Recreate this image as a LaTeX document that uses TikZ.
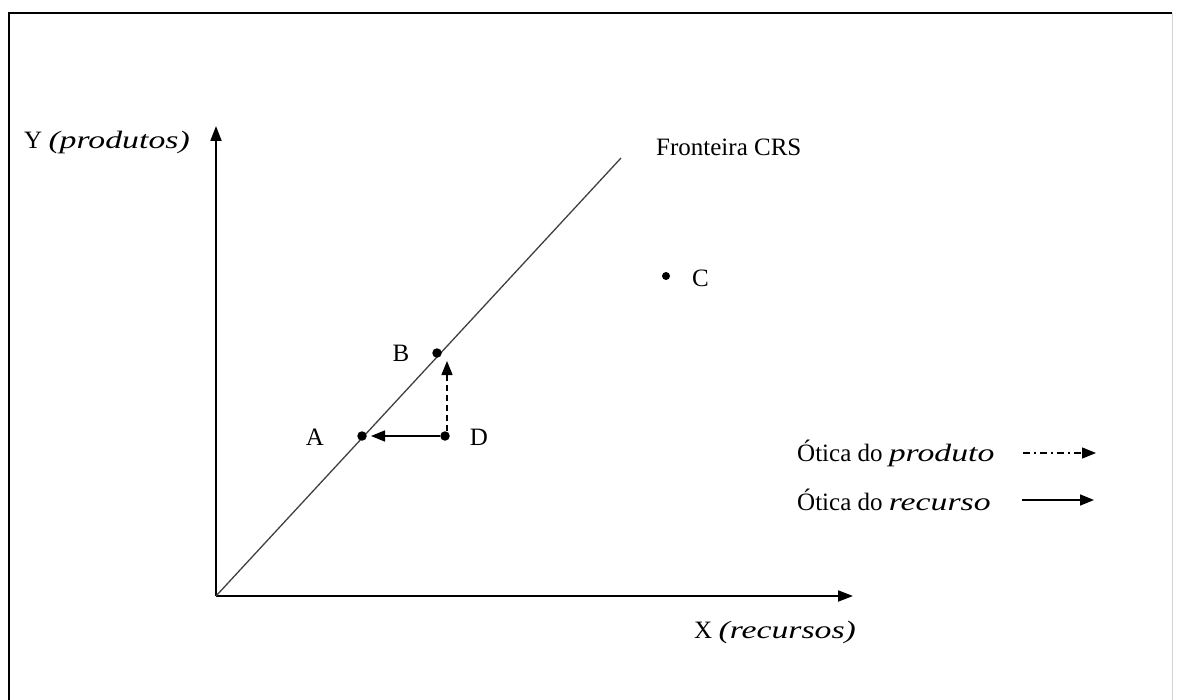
\documentclass[tikz,border=0pt]{standalone}
\usepackage{fontspec}
\setmainfont{Liberation Serif}[ItalicFeatures={FakeStretch=1.35}]
\usetikzlibrary{arrows.meta}
\begin{document}
\begin{tikzpicture}[x=1pt,y=-1pt,
  lbl/.style={inner sep=0pt,font=\fontsize{25}{29}\selectfont},
  axis/.style={line width=2pt,-{Triangle[length=15pt,width=11pt]}},
  dotpt/.style={circle,fill=black,inner sep=0pt,minimum size=9.5pt},
  move/.style={line width=1.6pt,-{Triangle[length=14pt,width=11pt]}}
]
\useasboundingbox (0,0) rectangle (1177,700);
% frame
\draw[line width=2pt] (9,700) -- (9,13) -- (1172,13);
\draw[gray!35,line width=1pt] (1172,13) -- (1172,700);
% axes
\coordinate (O) at (216,596);
\coordinate (ytip) at (216,126);
\coordinate (xtip) at (853,596);
\coordinate (ftop) at (621,158);
\draw[axis] (O) -- (ytip);
\draw[axis] (O) -- (xtip);
\draw[line width=1.3pt,black!75] (O) -- (ftop);
% points
\node[dotpt] (A) at (362,436) {};
\node[dotpt] (B) at (437,353) {};
\node[dotpt] (D) at (445,436) {};
\node[dotpt,minimum size=8pt] (C) at (666,276) {};
\coordinate (Aend) at (371,436);
\coordinate (Bend) at (447,361);
\coordinate (Dn) at (447,431);
\draw[move] (D) -- (Aend);
\draw[move,dash pattern=on 6pt off 4pt,line width=1.3pt] (Dn) -- (Bend);
% labels
\node[lbl,anchor=west] (Ylbl) at (24,142) {Y \textit{(produtos)}};
\node[lbl,anchor=west] (Flbl) at (656,147) {Fronteira CRS};
\node[lbl,anchor=west] (Xlbl) at (694,632) {X \textit{(recursos)}};
\node[lbl] (Alb) at (315,437) {A};
\node[lbl] (Blb) at (401,353) {B};
\node[lbl] (Dlb) at (479,437) {D};
\node[lbl,anchor=west] (Clb) at (692,278) {C};
% legend
\node[lbl,anchor=west] (L1) at (797,453) {Ótica do \textit{produto}};
\node[lbl,anchor=west] (L2) at (797,500) {Ótica do \textit{recurso}};
\coordinate (L1a) at (1023,453);
\coordinate (L1b) at (1096,453);
\coordinate (L2a) at (1022,500);
\coordinate (L2b) at (1094,500);
\draw[move,line width=1.3pt,dash pattern=on 7pt off 4pt on 2pt off 4pt] (L1a) -- (L1b);
\draw[move] (L2a) -- (L2b);
\end{tikzpicture}
\end{document}
